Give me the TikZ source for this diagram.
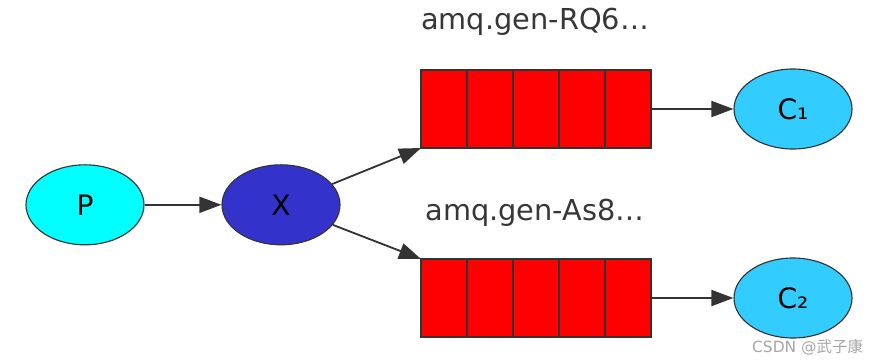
\documentclass[tikz,border=0pt]{standalone}
\usepackage{fontspec}
\setmainfont{DejaVu Sans}
\newfontfamily\cjkfont{Noto Sans CJK SC}
\usetikzlibrary{positioning, arrows.meta, shapes.geometric}

\definecolor{prodcyan}{RGB}{0,255,255}
\definecolor{exchblue}{RGB}{51,51,204}
\definecolor{conslight}{RGB}{51,204,255}
\definecolor{queuered}{RGB}{255,0,0}
\definecolor{textgray}{RGB}{55,55,55}

\begin{document}
\begin{tikzpicture}[
    agent/.style={ellipse, draw=black!80, line width=0.8pt,
                  minimum width=2.95cm, minimum height=2.0cm, inner sep=0pt,
                  font=\fontsize{20}{23}\selectfont},
    cell/.style={rectangle, draw=black!80, line width=0.8pt, fill=queuered,
                 minimum width=1.15cm, minimum height=1.95cm,
                 inner sep=0pt, outer sep=0pt},
    qname/.style={font=\fontsize{20.5}{24}\selectfont, text=textgray},
    arr/.style={-{Triangle[length=0.55cm, width=0.4cm]}, line width=1.3pt,
                draw=black!80}
]
  \useasboundingbox (0,0) rectangle (21.8,9.05);

  % Producer and exchange
  \node[agent, fill=prodcyan] (p) at (2.125,3.93) {P};
  \node[agent, fill=exchblue] (x) at (7.025,3.93) {X};

  % First queue
  \node[cell] (qa1) at (11.1,6.325) {};
  \node[cell, right=0pt of qa1] (qa2) {};
  \node[cell, right=0pt of qa2] (qa3) {};
  \node[cell, right=0pt of qa3] (qa4) {};
  \node[cell, right=0pt of qa4] (qa5) {};
  \node[qname] (na) at (13.375,8.5) {amq.gen-RQ6…};

  % Second queue
  \node[cell] (qb1) at (11.1,1.6) {};
  \node[cell, right=0pt of qb1] (qb2) {};
  \node[cell, right=0pt of qb2] (qb3) {};
  \node[cell, right=0pt of qb3] (qb4) {};
  \node[cell, right=0pt of qb4] (qb5) {};
  \node[qname] (nb) at (13.375,3.72) {amq.gen-As8…};

  % Consumers
  \node[agent, fill=conslight] (c1) at (19.825,6.325) {C₁};
  \node[agent, fill=conslight] (c2) at (19.825,1.6) {C₂};

  % Arrows
  \draw[arr] (p) -- (x);
  \draw[arr] (x) -- (qa1.south west);
  \draw[arr] (x) -- (qb1.north west);
  \draw[arr] (qa5.east) -- (c1);
  \draw[arr] (qb5.east) -- (c2);

  % Watermark
  \node[anchor=east, text=black!35, font=\fontsize{11}{13}\selectfont] (wm)
    at (21.7,0.38) {CSDN @{\cjkfont 武子康}};
\end{tikzpicture}
\end{document}
